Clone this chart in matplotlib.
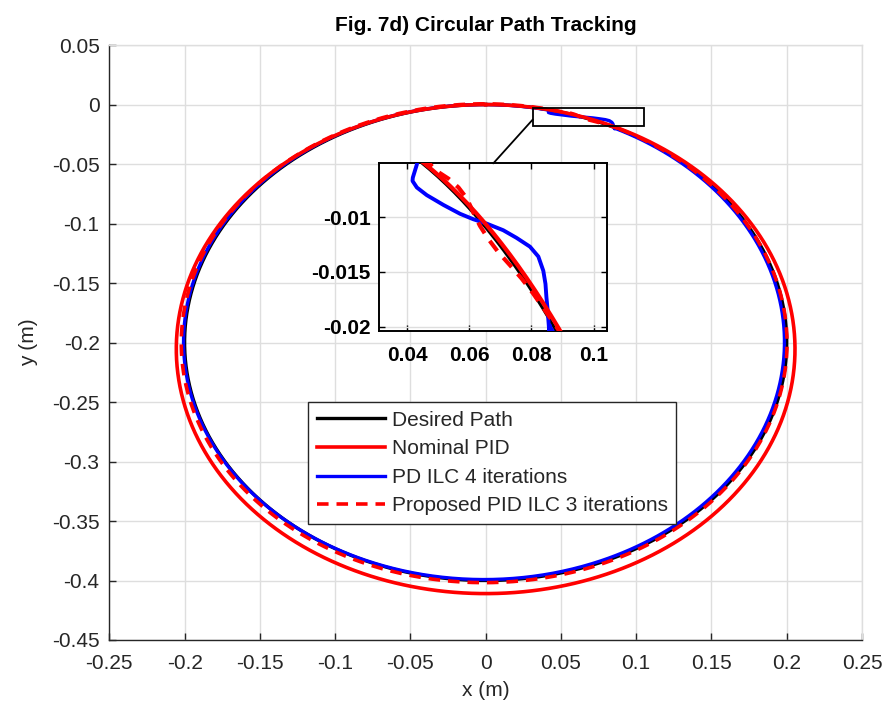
import numpy as np
import matplotlib
matplotlib.use('Agg')
import matplotlib.pyplot as plt
from matplotlib.patches import Rectangle, ConnectionPatch

plt.rcParams['font.family'] = ['Liberation Sans', 'DejaVu Sans']

# reference circle and fitted circles of each run (centre x, centre y, radius) in metres
DESIRED_CENTER = (0.0, -0.2)
DESIRED_RADIUS = 0.2
NOMINAL_CENTER = (0.0, -0.2055)
NOMINAL_RADIUS = 0.2055
PD_ILC_CENTER = (-0.0011, -0.1996)
PD_ILC_RADIUS = 0.1996
PROPOSED_CENTER = (-0.001, -0.2006)
PROPOSED_RADIUS = 0.2012

# measured section near the top-right, where the runs leave the circle
PD_ILC_X = [0.0431, 0.0418, 0.0417, 0.0431, 0.0463, 0.0517, 0.0570, 0.0613, 0.0656,
            0.0709, 0.0752, 0.0795, 0.0822, 0.0838, 0.0845, 0.0848, 0.0852, 0.0857]
PD_ILC_Y = [-0.0052, -0.0064, -0.0067, -0.0073, -0.0080, -0.0089, -0.0097, -0.0102, -0.0106,
            -0.0112, -0.0119, -0.0127, -0.0136, -0.0149, -0.0161, -0.0173, -0.0185, -0.0204]
PROPOSED_X = [0.0474, 0.0495, 0.0533, 0.0565, 0.0592, 0.0613, 0.0634, 0.0661,
              0.0693, 0.0731, 0.0768, 0.0806, 0.0843, 0.0880, 0.0889]
PROPOSED_Y = [-0.0052, -0.0058, -0.0065, -0.0073, -0.0083, -0.0096, -0.0108, -0.0120,
              -0.0132, -0.0144, -0.0156, -0.0170, -0.0185, -0.0200, -0.0204]

# zoom window
INSET_XLIM = (0.031, 0.1044)
INSET_YLIM = (-0.0204, -0.0051)
BOX_X = (0.0313, 0.1051)
BOX_Y = (-0.0182, -0.0029)

LABELS = ['Desired Path', 'Nominal PID', 'PD ILC 4 iterations', 'Proposed PID ILC 3 iterations']


def track(center, radius, sec_x=None, sec_y=None, n=900):
    cx, cy = center
    if sec_x is None:
        t = np.linspace(0, 2 * np.pi, n)
        return cx + radius * np.sin(t), cy + radius * np.cos(t)
    # angle measured clockwise from the top of the circle
    t0 = np.arctan2(sec_x[0] - cx, sec_y[0] - cy)
    t1 = np.arctan2(sec_x[-1] - cx, sec_y[-1] - cy)
    t = np.linspace(t1, t0 + 2 * np.pi, n)
    x = np.concatenate([cx + radius * np.sin(t), sec_x, [cx + radius * np.sin(t1)]])
    y = np.concatenate([cy + radius * np.cos(t), sec_y, [cy + radius * np.cos(t1)]])
    return x, y


des = track(DESIRED_CENTER, DESIRED_RADIUS)
nom = track(NOMINAL_CENTER, NOMINAL_RADIUS)
pd = track(PD_ILC_CENTER, PD_ILC_RADIUS, PD_ILC_X, PD_ILC_Y)
prop = track(PROPOSED_CENTER, PROPOSED_RADIUS, PROPOSED_X, PROPOSED_Y)

dark = '#262626'
grid_c = '#dedede'
dash = (3.2, 2.2)

fig = plt.figure(figsize=(8.88, 7.15), dpi=100)
ax = fig.add_axes([0.1231, 0.1049, 0.8476, 0.8321])

ax.plot(*des, color='black', lw=2.4, label=LABELS[0], zorder=3)
ax.plot(*pd, color='blue', lw=2.4, label=LABELS[2], zorder=4)
ax.plot(*prop, color='red', lw=2.6, ls='--', dashes=dash, label=LABELS[3], zorder=5)
ax.plot(*nom, color='red', lw=2.6, label=LABELS[1], zorder=6)

ax.set_xlim(-0.25, 0.25)
ax.set_ylim(-0.45, 0.05)
ax.set_xticks(np.arange(-0.25, 0.2501, 0.05))
ax.set_yticks(np.arange(-0.45, 0.0501, 0.05))
ax.set_xticklabels(['-0.25', '-0.2', '-0.15', '-0.1', '-0.05', '0', '0.05', '0.1', '0.15', '0.2', '0.25'])
ax.set_yticklabels(['-0.45', '-0.4', '-0.35', '-0.3', '-0.25', '-0.2', '-0.15', '-0.1', '-0.05', '0', '0.05'])
ax.grid(True, color=grid_c, lw=1.0)
ax.set_axisbelow(True)
for side in ['left', 'bottom']:
    ax.spines[side].set_color(dark)
    ax.spines[side].set_linewidth(1.0)
for side in ['top', 'right']:
    ax.spines[side].set_color(grid_c)
    ax.spines[side].set_linewidth(1.0)
ax.tick_params(axis='both', direction='in', length=5, width=1, color=dark, labelcolor=dark, labelsize=15)
ax.tick_params(axis='x', pad=10)
ax.tick_params(axis='y', pad=7)

ax.set_xlabel('x (m)', fontsize=15, color=dark, labelpad=6)
ax.set_ylabel('y (m)', fontsize=15, color=dark, labelpad=10)
ax.set_title('Fig. 7d) Circular Path Tracking', fontsize=15, fontweight='bold', pad=10)

handles, labs = ax.get_legend_handles_labels()
order = [labs.index(l) for l in LABELS]
leg = ax.legend([handles[i] for i in order], [labs[i] for i in order],
                loc='upper left', bbox_to_anchor=(0.2644, 0.3995), borderaxespad=0,
                fontsize=15, handlelength=3.3, handletextpad=0.3, labelspacing=0.46,
                borderpad=0.4, fancybox=False, framealpha=1)
leg.get_frame().set_edgecolor(dark)
leg.get_frame().set_linewidth(1.0)
for t in leg.get_texts():
    t.set_color(dark)
leg.set_zorder(10)

ax.add_patch(Rectangle((BOX_X[0], BOX_Y[0]), BOX_X[1] - BOX_X[0], BOX_Y[1] - BOX_Y[0],
                       fill=False, edgecolor='black', lw=1.3, zorder=8))

# zoomed inset
ins = fig.add_axes([0.4271, 0.537, 0.2568, 0.2345])
ins.plot(*des, color='black', lw=2.2, zorder=3)
ins.plot(*pd, color='blue', lw=2.8, zorder=4)
ins.plot(*prop, color='red', lw=3.0, ls='--', dashes=(3.0, 2.2), zorder=5)
ins.plot(*nom, color='red', lw=3.0, zorder=6)
ins.set_xlim(*INSET_XLIM)
ins.set_ylim(*INSET_YLIM)
ins.set_xticks([0.04, 0.06, 0.08, 0.1])
ins.set_xticklabels(['0.04', '0.06', '0.08', '0.1'])
ins.set_yticks([-0.02, -0.015, -0.01])
ins.set_yticklabels(['-0.02', '-0.015', '-0.01'])
ins.grid(True, color=grid_c, lw=1.0)
ins.set_axisbelow(True)
for s in ins.spines.values():
    s.set_color('black')
    s.set_linewidth(1.4)
ins.tick_params(axis='both', direction='in', length=4, width=1, labelsize=15,
                top=True, right=True)
ins.tick_params(axis='x', pad=11)
ins.tick_params(axis='y', pad=6)
for lab in ins.get_xticklabels() + ins.get_yticklabels():
    lab.set_fontweight('bold')

con = ConnectionPatch(xyA=(0.5, 1.0), coordsA=ins.transAxes,
                      xyB=(BOX_X[0], -0.0126), coordsB=ax.transData,
                      color='black', lw=1.3)
fig.add_artist(con)

fig.savefig('out.png', dpi=100)
